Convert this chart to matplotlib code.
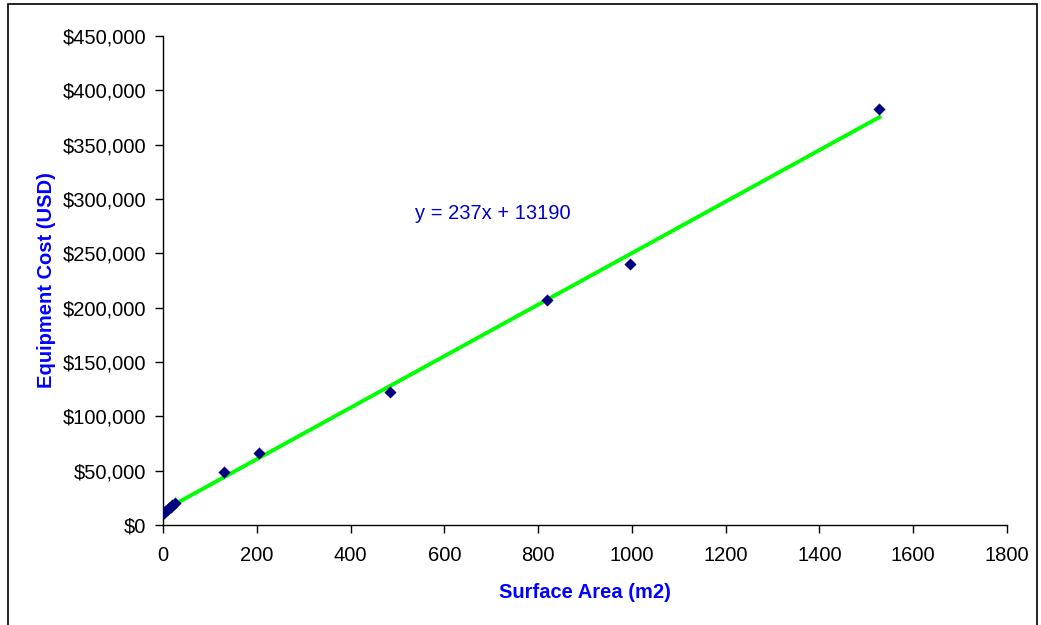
import matplotlib
matplotlib.use("Agg")
import matplotlib.pyplot as plt
from matplotlib.ticker import FuncFormatter, MultipleLocator
from matplotlib.patches import Rectangle

area = [2, 5, 8, 12, 16, 20, 25, 130, 205, 485, 820, 995, 1528]
cost = [11000, 12500, 14000, 15500, 17000, 18500, 20000, 48500, 66500, 122500, 207500, 240000, 383000]
slope = 237
intercept = 13190
eq_text = "y = 237x + 13190"

plt.rcParams['font.family'] = ['Liberation Sans', 'DejaVu Sans']

fig = plt.figure(figsize=(10.41, 6.25), dpi=100)
ax = fig.add_axes([0.1566, 0.16, 0.8107, 0.7824])

fit_x = [min(area), max(area)]
fit_y = [slope * v + intercept for v in fit_x]
ax.plot(fit_x, fit_y, color='#00FF00', lw=2.8, zorder=2)
ax.scatter(area, cost, marker='D', s=38, color='#000080', zorder=3, linewidths=0)

ax.set_xlim(0, 1800)
ax.set_ylim(0, 450000)
ax.xaxis.set_major_locator(MultipleLocator(200))
ax.yaxis.set_major_locator(MultipleLocator(50000))
ax.yaxis.set_major_formatter(FuncFormatter(lambda v, p: f"${v:,.0f}"))
ax.spines['top'].set_visible(False)
ax.spines['right'].set_visible(False)
for s in ('left', 'bottom'):
    ax.spines[s].set_linewidth(1.0)
ax.tick_params(axis='both', direction='out', length=6, width=1, labelsize=14.5)
ax.tick_params(axis='x', pad=9)
ax.tick_params(axis='y', pad=6)

ax.set_xlabel('Surface Area (m2)', color='#0000FF', fontsize=14.5, fontweight='bold', labelpad=13)
ax.set_ylabel('Equipment Cost (USD)', color='#0000FF', fontsize=14.5, fontweight='bold', labelpad=5)

ax.text(537, 287000, eq_text, color='#0000CC', fontsize=14.5, va='center', ha='left')

fig.patches.append(Rectangle((0.0075, -0.01), 0.989, 1.004, transform=fig.transFigure,
                             fill=False, edgecolor='black', lw=1.2))

fig.savefig('out.png', dpi=100)
